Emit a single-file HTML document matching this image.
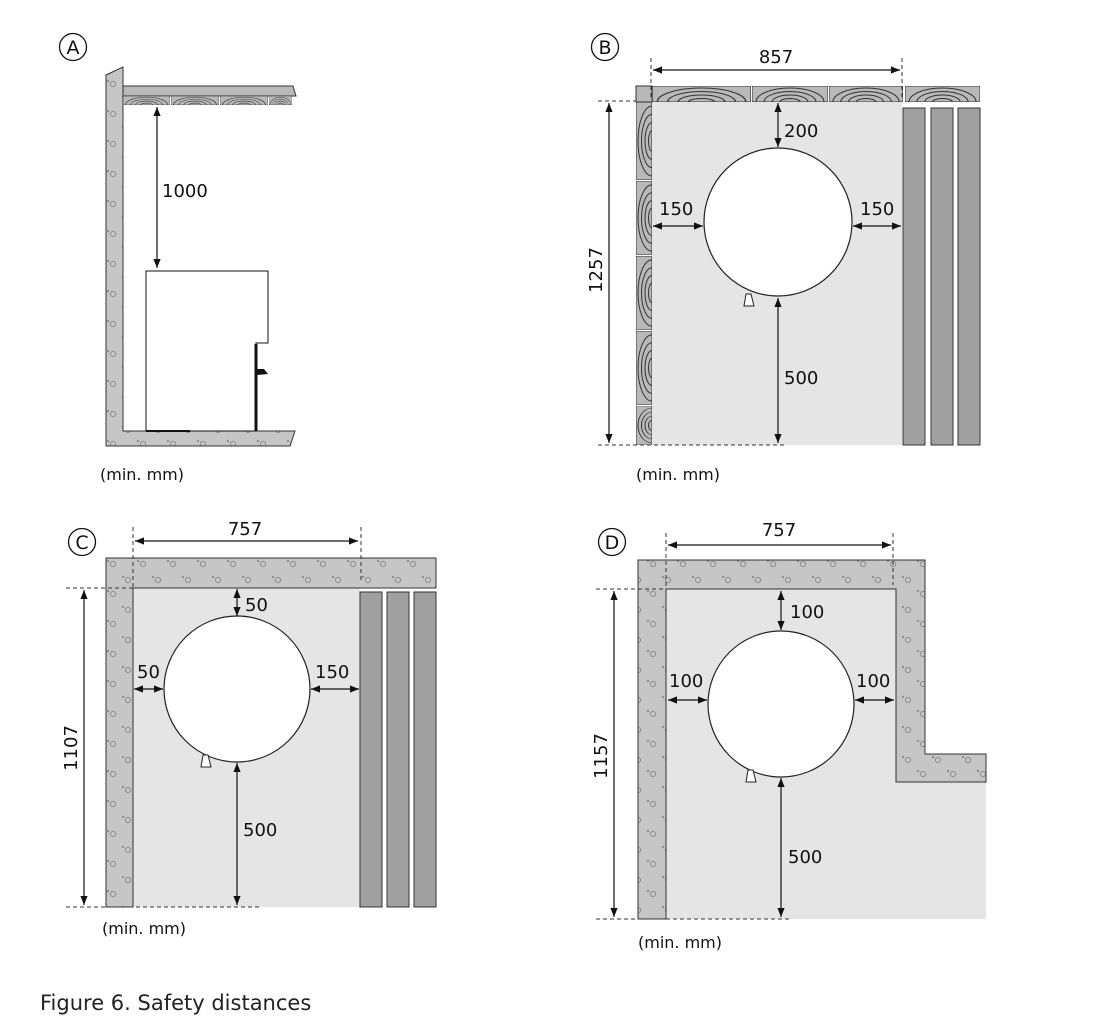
<!DOCTYPE html>
<html><head><meta charset="utf-8"><style>
html,body{margin:0;padding:0;background:#fff;width:1104px;height:1024px;overflow:hidden}
svg{display:block}
text{font-family:"DejaVu Sans","Liberation Sans",sans-serif;fill:#111}
</style></head><body>
<svg width="1104" height="1024" viewBox="0 0 1104 1024" xmlns="http://www.w3.org/2000/svg">
<defs>
<pattern id="conc" width="30" height="30" patternUnits="userSpaceOnUse">
<rect width="30" height="30" fill="#c6c6c7"/>
<circle cx="8" cy="10" r="2.6" fill="none" stroke="#8f8f8f" stroke-width="1"/>
<circle cx="3" cy="7" r="1.2" fill="#8f8f8f"/>
<circle cx="23" cy="24" r="2.6" fill="none" stroke="#8f8f8f" stroke-width="1"/>
<circle cx="18" cy="21" r="1.2" fill="#8f8f8f"/>
</pattern>
<symbol id="bh" viewBox="0 0 76 16" preserveAspectRatio="none">
<rect width="76" height="16" fill="#b9b9ba" stroke="#333" stroke-width="1"/>
<path d="M4 16 A34 14 0 0 1 72 16 M12 16 A26 10.5 0 0 1 64 16 M20 16 A18 7 0 0 1 56 16 M28 16 A10 3.5 0 0 1 48 16" fill="none" stroke="#333" stroke-width="1"/>
</symbol>
<symbol id="bv" viewBox="0 0 16 76" preserveAspectRatio="none">
<rect width="16" height="76" fill="#b9b9ba" stroke="#333" stroke-width="1"/>
<path d="M16 4 A14 34 0 0 0 16 72 M16 12 A10.5 26 0 0 0 16 64 M16 20 A7 18 0 0 0 16 56 M16 28 A3.5 10 0 0 0 16 48" fill="none" stroke="#333" stroke-width="1"/>
</symbol>
<marker id="ah" viewBox="0 0 10 10" refX="10" refY="5" markerWidth="9" markerHeight="9" orient="auto-start-reverse" markerUnits="userSpaceOnUse"><path d="M0 1 L10 5 L0 9 Z" fill="#111"/></marker>
</defs>

<!-- ===== A ===== -->
<circle cx="73" cy="47" r="13.5" fill="none" stroke="#111" stroke-width="1.3"/>
<text x="73" y="54" font-size="19" text-anchor="middle">A</text>
<path d="M106 75 L123 67 L123 431 L295 431 L290 446 L106 446 Z" fill="url(#conc)" stroke="#333" stroke-width="1"/>
<path d="M123 86 L293 86 L296 96 L123 96 Z" fill="#b9b9ba" stroke="#333" stroke-width="1"/>
<use href="#bh" x="123" y="96" width="47" height="9"/>
<use href="#bh" x="171" y="96" width="48" height="9"/>
<use href="#bh" x="220" y="96" width="48" height="9"/>
<use href="#bh" x="269" y="96" width="23" height="9"/>
<line x1="157" y1="107" x2="157" y2="268" stroke="#111" stroke-width="1.2" marker-start="url(#ah)" marker-end="url(#ah)"/>
<text x="162" y="197" font-size="18">1000</text>
<path d="M146 431 L146 271 L268 271 L268 343 L256 343 L256 431 Z" fill="#fff" stroke="#111" stroke-width="1"/>
<line x1="256" y1="344" x2="256" y2="431" stroke="#111" stroke-width="3"/>
<path d="M257 369 L264 369 L268 374 L257 375 Z" fill="#111"/>
<line x1="146" y1="431" x2="190" y2="431" stroke="#111" stroke-width="2"/>
<text x="100" y="480" font-size="16">(min. mm)</text>

<!-- ===== B ===== -->
<circle cx="605" cy="47" r="13.5" fill="none" stroke="#111" stroke-width="1.3"/>
<text x="605" y="54" font-size="19" text-anchor="middle">B</text>
<rect x="652" y="102" width="250" height="343" fill="#e5e5e6"/>
<rect x="636" y="86" width="16" height="16" fill="#b9b9ba" stroke="#333" stroke-width="1"/>
<use href="#bh" x="652" y="86" width="99" height="16"/>
<use href="#bh" x="752" y="86" width="76" height="16"/>
<use href="#bh" x="829" y="86" width="74" height="16"/>
<use href="#bh" x="905" y="86" width="75" height="16"/>
<use href="#bv" x="636" y="102" width="16" height="78"/>
<use href="#bv" x="636" y="181" width="16" height="74"/>
<use href="#bv" x="636" y="256" width="16" height="74"/>
<use href="#bv" x="636" y="331" width="16" height="74"/>
<use href="#bv" x="636" y="406" width="16" height="39"/>
<rect x="903" y="108" width="22" height="337" fill="#a0a0a1" stroke="#333" stroke-width="1"/>
<rect x="931" y="108" width="22" height="337" fill="#a0a0a1" stroke="#333" stroke-width="1"/>
<rect x="958" y="108" width="22" height="337" fill="#a0a0a1" stroke="#333" stroke-width="1"/>
<circle cx="778" cy="222" r="74" fill="#fff" stroke="#222" stroke-width="1.2"/>
<path d="M744 306 L746 294 L751 294 L754 306 Z" fill="#fff" stroke="#222" stroke-width="1"/>
<g stroke="#333" stroke-width="1" stroke-dasharray="4,3" fill="none">
<line x1="651" y1="58" x2="651" y2="100"/><line x1="902" y1="58" x2="902" y2="100"/>
<line x1="598" y1="101" x2="636" y2="101"/><line x1="598" y1="445" x2="785" y2="445"/>
</g>
<line x1="653" y1="70" x2="900" y2="70" stroke="#111" stroke-width="1.2" marker-start="url(#ah)" marker-end="url(#ah)"/>
<text x="776" y="63" font-size="18" text-anchor="middle">857</text>
<line x1="609" y1="103" x2="609" y2="443" stroke="#111" stroke-width="1.2" marker-start="url(#ah)" marker-end="url(#ah)"/>
<text transform="translate(602,270) rotate(-90)" font-size="18" text-anchor="middle">1257</text>
<line x1="778" y1="103" x2="778" y2="147" stroke="#111" stroke-width="1.2" marker-start="url(#ah)" marker-end="url(#ah)"/>
<text x="784" y="137" font-size="18">200</text>
<line x1="653" y1="226" x2="703" y2="226" stroke="#111" stroke-width="1.2" marker-start="url(#ah)" marker-end="url(#ah)"/>
<text x="659" y="215" font-size="18">150</text>
<line x1="853" y1="226" x2="901" y2="226" stroke="#111" stroke-width="1.2" marker-start="url(#ah)" marker-end="url(#ah)"/>
<text x="860" y="215" font-size="18">150</text>
<line x1="778" y1="298" x2="778" y2="443" stroke="#111" stroke-width="1.2" marker-start="url(#ah)" marker-end="url(#ah)"/>
<text x="784" y="384" font-size="18">500</text>
<text x="636" y="480" font-size="16">(min. mm)</text>

<!-- ===== C ===== -->
<circle cx="82" cy="542" r="13.5" fill="none" stroke="#111" stroke-width="1.3"/>
<text x="82" y="549" font-size="19" text-anchor="middle">C</text>
<rect x="133" y="588" width="227" height="319" fill="#e5e5e6"/>
<path d="M106 558 L436 558 L436 588 L133 588 L133 907 L106 907 Z" fill="url(#conc)" stroke="#333" stroke-width="1"/>
<rect x="360" y="592" width="22" height="315" fill="#a0a0a1" stroke="#333" stroke-width="1"/>
<rect x="387" y="592" width="22" height="315" fill="#a0a0a1" stroke="#333" stroke-width="1"/>
<rect x="414" y="592" width="22" height="315" fill="#a0a0a1" stroke="#333" stroke-width="1"/>
<circle cx="237" cy="689" r="73" fill="#fff" stroke="#222" stroke-width="1.2"/>
<path d="M201 767 L203 755 L208 755 L211 767 Z" fill="#fff" stroke="#222" stroke-width="1"/>
<g stroke="#333" stroke-width="1" stroke-dasharray="4,3" fill="none">
<line x1="133" y1="527" x2="133" y2="590"/><line x1="361" y1="527" x2="361" y2="582"/>
<line x1="66" y1="588" x2="148" y2="588"/><line x1="66" y1="907" x2="262" y2="907"/>
</g>
<line x1="135" y1="541" x2="358" y2="541" stroke="#111" stroke-width="1.2" marker-start="url(#ah)" marker-end="url(#ah)"/>
<text x="245" y="535" font-size="18" text-anchor="middle">757</text>
<line x1="84" y1="590" x2="84" y2="905" stroke="#111" stroke-width="1.2" marker-start="url(#ah)" marker-end="url(#ah)"/>
<text transform="translate(77,748) rotate(-90)" font-size="18" text-anchor="middle">1107</text>
<line x1="237" y1="589" x2="237" y2="616" stroke="#111" stroke-width="1.2" marker-start="url(#ah)" marker-end="url(#ah)"/>
<text x="245" y="611" font-size="18">50</text>
<line x1="134" y1="689" x2="163" y2="689" stroke="#111" stroke-width="1.2" marker-start="url(#ah)" marker-end="url(#ah)"/>
<text x="137" y="678" font-size="18">50</text>
<line x1="311" y1="689" x2="359" y2="689" stroke="#111" stroke-width="1.2" marker-start="url(#ah)" marker-end="url(#ah)"/>
<text x="315" y="678" font-size="18">150</text>
<line x1="237" y1="763" x2="237" y2="905" stroke="#111" stroke-width="1.2" marker-start="url(#ah)" marker-end="url(#ah)"/>
<text x="243" y="836" font-size="18">500</text>
<text x="102" y="934" font-size="16">(min. mm)</text>

<!-- ===== D ===== -->
<circle cx="612" cy="542" r="13.5" fill="none" stroke="#111" stroke-width="1.3"/>
<text x="612" y="549" font-size="19" text-anchor="middle">D</text>
<path d="M666 589 L896 589 L896 782 L986 782 L986 919 L666 919 Z" fill="#e5e5e6"/>
<path d="M638 560 L925 560 L925 754 L986 754 L986 782 L896 782 L896 589 L666 589 L666 919 L638 919 Z" fill="url(#conc)" stroke="#333" stroke-width="1"/>
<circle cx="781" cy="704" r="73" fill="#fff" stroke="#222" stroke-width="1.2"/>
<path d="M746 782 L748 770 L753 770 L756 782 Z" fill="#fff" stroke="#222" stroke-width="1"/>
<g stroke="#333" stroke-width="1" stroke-dasharray="4,3" fill="none">
<line x1="666" y1="533" x2="666" y2="590"/><line x1="893" y1="533" x2="893" y2="585"/>
<line x1="596" y1="589" x2="678" y2="589"/><line x1="596" y1="919" x2="792" y2="919"/>
</g>
<line x1="668" y1="545" x2="891" y2="545" stroke="#111" stroke-width="1.2" marker-start="url(#ah)" marker-end="url(#ah)"/>
<text x="779" y="536" font-size="18" text-anchor="middle">757</text>
<line x1="614" y1="591" x2="614" y2="917" stroke="#111" stroke-width="1.2" marker-start="url(#ah)" marker-end="url(#ah)"/>
<text transform="translate(607,756) rotate(-90)" font-size="18" text-anchor="middle">1157</text>
<line x1="781" y1="591" x2="781" y2="630" stroke="#111" stroke-width="1.2" marker-start="url(#ah)" marker-end="url(#ah)"/>
<text x="790" y="618" font-size="18">100</text>
<line x1="668" y1="700" x2="707" y2="700" stroke="#111" stroke-width="1.2" marker-start="url(#ah)" marker-end="url(#ah)"/>
<text x="669" y="687" font-size="18">100</text>
<line x1="855" y1="700" x2="894" y2="700" stroke="#111" stroke-width="1.2" marker-start="url(#ah)" marker-end="url(#ah)"/>
<text x="856" y="687" font-size="18">100</text>
<line x1="781" y1="778" x2="781" y2="917" stroke="#111" stroke-width="1.2" marker-start="url(#ah)" marker-end="url(#ah)"/>
<text x="788" y="863" font-size="18">500</text>
<text x="638" y="948" font-size="16">(min. mm)</text>

<text x="40" y="1010" font-size="21" style="fill:#222">Figure 6. Safety distances</text>
</svg>
</body></html>
